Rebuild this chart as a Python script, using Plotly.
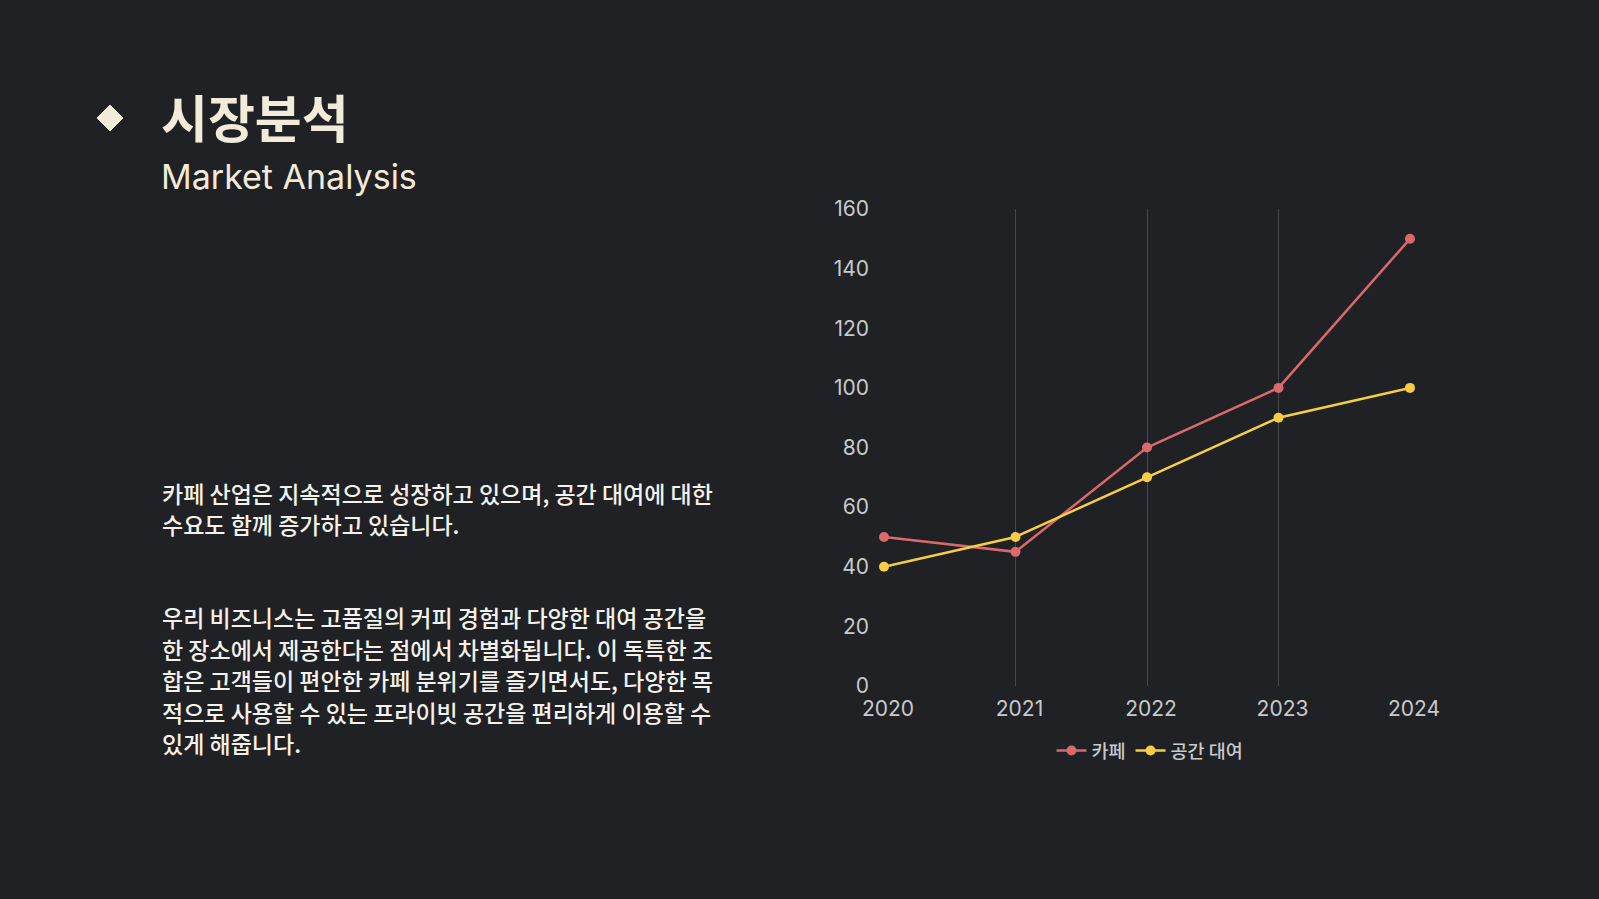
import plotly.graph_objects as go

# 데이터
years = [2020, 2021, 2022, 2023, 2024]
cafe = [50, 45, 80, 100, 150]
rental = [40, 50, 70, 90, 100]
series_names = ['카페', '공간 대여']
y_ticks = [0, 20, 40, 60, 80, 100, 120, 140, 160]

title_ko = '시장분석'
title_en = 'Market Analysis'
para1 = ['카페 산업은 지속적으로 성장하고 있으며, 공간 대여에 대한',
         '수요도 함께 증가하고 있습니다.']
para2 = ['우리 비즈니스는 고품질의 커피 경험과 다양한 대여 공간을',
         '한 장소에서 제공한다는 점에서 차별화됩니다. 이 독특한 조',
         '합은 고객들이 편안한 카페 분위기를 즐기면서도, 다양한 목',
         '적으로 사용할 수 있는 프라이빗 공간을 편리하게 이용할 수',
         '있게 해줍니다.']

W, H = 1599, 899
BG = '#1f2125'
CREAM = '#f2ebda'
TEXT = '#f3f1ea'

def px(x):
    return x / W

def py(y):
    return 1 - y / H

fig = go.Figure()
fig.add_trace(go.Scatter(x=years, y=cafe, name=series_names[0], mode='lines+markers',
                         line=dict(color='#d9696b', width=2.5),
                         marker=dict(size=10, color='#d9696b'), cliponaxis=False))
fig.add_trace(go.Scatter(x=years, y=rental, name=series_names[1], mode='lines+markers',
                         line=dict(color='#f6cd45', width=2.5),
                         marker=dict(size=10, color='#f6cd45'), cliponaxis=False))

annotations = []
annotations.append(dict(text=title_ko, x=px(159), y=py(116), xref='paper', yref='paper',
                        xanchor='left', yanchor='middle', showarrow=False,
                        font=dict(family='Noto Sans CJK KR', size=51, color=CREAM, weight=700)))
annotations.append(dict(text=title_en, x=px(159), y=py(176), xref='paper', yref='paper',
                        xanchor='left', yanchor='middle', showarrow=False,
                        font=dict(family='Inter', size=34, color=CREAM)))
for i, line in enumerate(para1):
    annotations.append(dict(text=line, x=px(160), y=py(493 + i * 30.5), xref='paper', yref='paper',
                            xanchor='left', yanchor='middle', showarrow=False,
                            font=dict(family='Noto Sans CJK KR', size=23, color=TEXT, weight=500)))
for i, line in enumerate(para2):
    annotations.append(dict(text=line, x=px(160), y=py(617 + i * 31.5), xref='paper', yref='paper',
                            xanchor='left', yanchor='middle', showarrow=False,
                            font=dict(family='Noto Sans CJK KR', size=23, color=TEXT, weight=500)))

fig.update_layout(
    width=W, height=H,
    paper_bgcolor=BG, plot_bgcolor=BG,
    margin=dict(l=0, r=0, t=0, b=0, autoexpand=False),
    annotations=annotations,
    shapes=[dict(type='path', xref='paper', yref='paper', xsizemode='pixel', ysizemode='pixel',
                 xanchor=px(110), yanchor=py(118),
                 path='M 0 13 L 13 0 L 0 -13 L -13 0 Z',
                 fillcolor=CREAM, line=dict(color=CREAM, width=1))],
    xaxis=dict(domain=[px(884), px(1410)], range=[2020, 2024], tickvals=years,
               showgrid=True, gridcolor='#44474c', gridwidth=1, zeroline=False, showline=False,
               ticks='', ticklabelstandoff=8, ticklabelshift=4, automargin=False,
               tickfont=dict(family='Inter', size=21, color='#c8c9cb')),
    yaxis=dict(domain=[py(686), py(209)], range=[0, 160], tickvals=y_ticks,
               showgrid=False, zeroline=False, showline=False, automargin=False,
               ticks='', ticklabelstandoff=14,
               tickfont=dict(family='Inter', size=21, color='#c8c9cb')),
    legend=dict(orientation='h', x=px(1150), y=py(751), xanchor='center', yanchor='middle',
                itemwidth=30, bgcolor='rgba(0,0,0,0)',
                font=dict(family='Noto Sans CJK KR', size=18.5, color='#c8c9cb', weight=500)),
)

fig.write_html('out.html', config={'displayModeBar': False},
               post_script="document.body.style.margin='0';document.body.style.background='#1f2125';")
